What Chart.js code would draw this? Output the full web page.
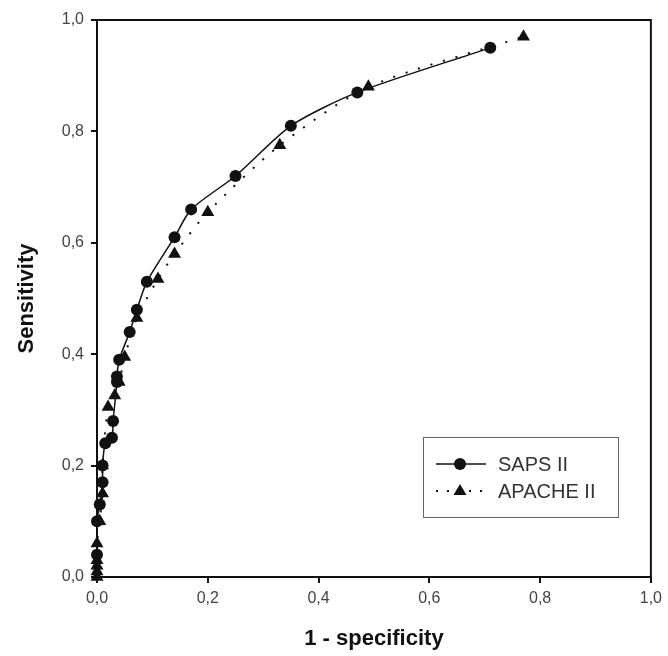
<html>
<head>
<title>ROC curves</title>
<script src="https://cdn.jsdelivr.net/npm/chart.js"></script>
<style>
  body { margin: 0; background: #fff; }
  #wrap { width: 668px; height: 656px; }
</style>
</head>
<body>
<div id="wrap"><canvas id="roc"></canvas></div>
<script>
// values: [1 - specificity, sensitivity]
const sapsX = [0, 0, 0.005, 0.01, 0.01, 0.015, 0.027, 0.029, 0.036, 0.036, 0.04, 0.059, 0.072, 0.09, 0.14, 0.17, 0.25, 0.35, 0.47, 0.71];
const sapsY = [0.04, 0.10, 0.13, 0.17, 0.20, 0.24, 0.25, 0.28, 0.35, 0.36, 0.39, 0.44, 0.48, 0.53, 0.61, 0.66, 0.72, 0.81, 0.87, 0.95];
const apacheX = [0, 0, 0, 0, 0, 0.005, 0.01, 0.01, 0.02, 0.032, 0.04, 0.05, 0.072, 0.11, 0.14, 0.20, 0.33, 0.49, 0.77];
const apacheY = [0.0, 0.01, 0.02, 0.03, 0.06, 0.10, 0.15, 0.20, 0.305, 0.326, 0.35, 0.395, 0.465, 0.535, 0.58, 0.655, 0.775, 0.88, 0.97];
const seriesNames = ['SAPS II', 'APACHE II'];
const tickValues = [0, 0.2, 0.4, 0.6, 0.8, 1.0];

function pts(xs, ys) {
  var out = [];
  for (var i = 0; i < xs.length; i++) out.push({x: xs[i], y: ys[i]});
  return out;
}
function fmt(v) { return v.toFixed(1).replace('.', ','); }

// frame around the plot + legend box
const framePlugin = {
  id: 'frame',
  afterDraw(chart) {
    var ctx = chart.ctx, a = chart.chartArea;
    ctx.save();
    ctx.strokeStyle = '#111';
    ctx.lineWidth = 2;
    ctx.strokeRect(a.left, a.top, a.right - a.left, a.bottom - a.top);

    // legend
    ctx.strokeStyle = '#666';
    ctx.lineWidth = 1;
    ctx.strokeRect(423.5, 437.5, 195, 80);
    ctx.strokeStyle = '#111';
    ctx.fillStyle = '#111';
    ctx.lineWidth = 1.5;
    ctx.beginPath(); ctx.moveTo(436, 464); ctx.lineTo(486, 464); ctx.stroke();
    ctx.beginPath(); ctx.arc(460, 464, 6, 0, Math.PI * 2); ctx.fill();
    ctx.lineWidth = 2;
    ctx.setLineDash([2, 9]);
    ctx.beginPath(); ctx.moveTo(436, 491); ctx.lineTo(486, 491); ctx.stroke();
    ctx.setLineDash([]);
    ctx.beginPath(); ctx.moveTo(460, 484); ctx.lineTo(466.5, 495); ctx.lineTo(453.5, 495); ctx.closePath(); ctx.fill();
    ctx.fillStyle = '#333';
    ctx.font = '20px "Liberation Sans", Arial, sans-serif';
    ctx.textBaseline = 'middle';
    ctx.fillText(seriesNames[0], 498, 465);
    ctx.fillText(seriesNames[1], 498, 492);
    ctx.restore();
  }
};

const tickFont = {family: '"Liberation Sans", Arial, sans-serif', size: 16};
const titleFont = {family: '"Liberation Sans", Arial, sans-serif', size: 22, weight: 'bold'};

new Chart(document.getElementById('roc'), {
  type: 'scatter',
  data: {
    datasets: [{
      label: seriesNames[0],
      data: pts(sapsX, sapsY),
      showLine: true,
      tension: 0.25,
      borderColor: '#111',
      borderWidth: 1.5,
      backgroundColor: '#111',
      pointStyle: 'circle',
      pointRadius: 6,
      pointBorderWidth: 0,
      clip: false
    }, {
      label: seriesNames[1],
      data: pts(apacheX, apacheY),
      showLine: true,
      tension: 0.25,
      borderColor: '#111',
      borderWidth: 2,
      borderDash: [2, 11],
      backgroundColor: '#111',
      pointStyle: 'triangle',
      pointRadius: 7.5,
      pointBorderWidth: 0,
      clip: false
    }]
  },
  options: {
    responsive: true,
    maintainAspectRatio: false,
    animation: false,
    layout: {padding: {top: 20, right: 15, left: 0, bottom: 0}},
    plugins: {legend: {display: false}, tooltip: {enabled: false}},
    scales: {
      x: {
        type: 'linear', min: 0, max: 1,
        afterFit(s) { s.height = 79; },
        afterBuildTicks(s) { s.ticks = tickValues.map(function (v) { return {value: v}; }); },
        border: {display: false},
        grid: {drawOnChartArea: false, drawTicks: true, tickLength: 6, color: '#111', lineWidth: 2},
        ticks: {color: '#444', font: tickFont, padding: 6, callback: fmt, maxRotation: 0},
        title: {display: true, text: '1 - specificity', color: '#111', font: titleFont, padding: {top: 0, bottom: 4}}
      },
      y: {
        type: 'linear', min: 0, max: 1,
        afterFit(s) { s.width = 97; },
        afterBuildTicks(s) { s.ticks = tickValues.map(function (v) { return {value: v}; }); },
        border: {display: false},
        grid: {drawOnChartArea: false, drawTicks: true, tickLength: 6, color: '#111', lineWidth: 2},
        ticks: {color: '#444', font: tickFont, padding: 7, callback: fmt},
        title: {display: true, text: 'Sensitivity', color: '#111', font: titleFont, padding: {top: 14, bottom: 0}}
      }
    }
  },
  plugins: [framePlugin]
});
</script>
</body>
</html>
